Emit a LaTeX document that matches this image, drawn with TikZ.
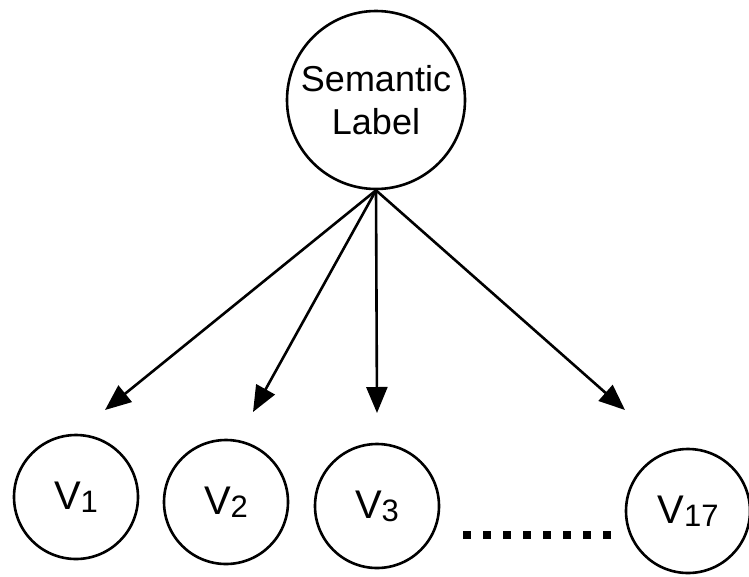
\documentclass[tikz,border=0pt]{standalone}
\usepackage{fontspec}
\setmainfont{Liberation Sans}
\usetikzlibrary{arrows.meta}

\newcommand{\vname}[1]{{\fontsize{40}{48}\selectfont V\raisebox{-3pt}{\fontsize{31}{31}\selectfont #1}}}

\tikzset{
    var/.style={draw, circle, line width=2.6pt, minimum size=124pt, inner sep=0pt},
    arr/.style={line width=2.6pt, -{Triangle[length=26pt, width=21pt]}}
}

\begin{document}
\begin{tikzpicture}[x=1pt, y=-1pt]
        \useasboundingbox (0, 0) rectangle (749, 576);
        \node[var, minimum size=178pt, align=center, font=\fontsize{36}{43}\selectfont] (label) at (376, 100) {Semantic\\Label};
        \node[var] (v1) at (76, 497) {\vname{1}};
        \node[var] (v2) at (226, 502) {\vname{2}};
        \node[var] (v3) at (377, 506) {\vname{3}};
        \node[var] (v17) at (688, 511) {\vname{17}};
        \coordinate (t1) at (105, 410);
        \coordinate (t2) at (253, 412);
        \coordinate (t3) at (377, 413);
        \coordinate (t17) at (625, 410);
        \draw[arr] (label.south) -- (t1);
        \draw[arr] (label.south) -- (t2);
        \draw[arr] (label.south) -- (t3);
        \draw[arr] (label.south) -- (t17);
        % dots between v3 and v17
        \coordinate (dots a) at (463, 535);
        \coordinate (dots b) at (611, 535);
        \draw[line width=8pt, dash pattern=on 8pt off 12pt] (dots a) -- (dots b);
    \end{tikzpicture}
\end{document}
